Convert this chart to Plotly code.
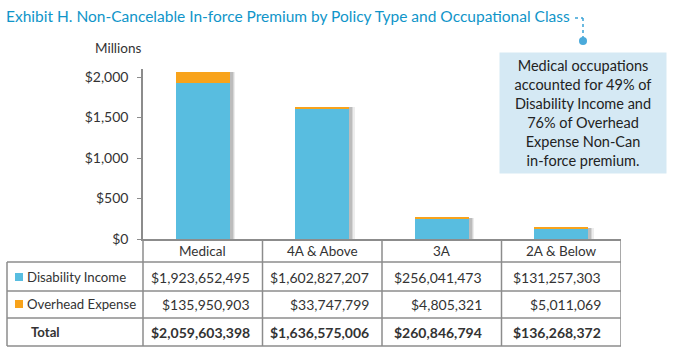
import plotly.graph_objects as go

categories = ["Medical", "4A & Above", "3A", "2A & Below"]
disability_income = [1923652495, 1602827207, 256041473, 131257303]
overhead_expense = [135950903, 33747799, 4805321, 5011069]
totals = [2059603398, 1636575006, 260846794, 136268372]
series_names = ["Disability Income", "Overhead Expense"]
y_ticks = [0, 500, 1000, 1500, 2000]

title_text = "Exhibit H. Non-Cancelable In-force Premium by Policy Type and Occupational Class"
note_text = ("Medical occupations<br>accounted for 49% of<br>Disability Income and"
             "<br>76% of Overhead<br>Expense Non-Can<br>in-force premium.")

W, H = 674, 354
L, R, T, B = 143, 53, 69, 115
PW, PH = W - L - R, H - T - B
FONT = "Lato"
BLUE = "#58bde0"
ORANGE = "#f8a31b"
GREY = "#8c8c8c"
TXT = "#333333"
TITLE_C = "#1095c9"


def px(x):
    return (x - L) / PW


def py(y):
    return (H - B - y) / PH


di_m = [v / 1e6 for v in disability_income]
oe_m = [v / 1e6 for v in overhead_expense]
tot_m = [v / 1e6 for v in totals]

bw = 0.45
fig = go.Figure()
# soft shadow behind bars (layered for a blurred edge)
for off, op in [(0.045, 0.12), (0.036, 0.18), (0.026, 0.25)]:
    fig.add_trace(go.Bar(x=categories, y=tot_m, width=bw, offset=-bw / 2 + off,
                         marker=dict(color=f"rgba(110,110,110,{op})", line=dict(width=0)),
                         hoverinfo="skip", showlegend=False))
fig.add_trace(go.Bar(x=categories, y=di_m, width=bw, name=series_names[0],
                     marker=dict(color=BLUE, line=dict(width=0)), showlegend=False))
fig.add_trace(go.Bar(x=categories, y=oe_m, base=di_m, width=bw, name=series_names[1],
                     marker=dict(color=ORANGE, line=dict(width=0)), showlegend=False))

shapes = []
ann = []

# table lines
line = dict(color=GREY, width=1.5)
for yy in [262, 291, 318, 346]:
    shapes.append(dict(type="line", xref="paper", yref="paper", x0=px(7), x1=px(621),
                       y0=py(yy), y1=py(yy), line=line))
shapes.append(dict(type="line", xref="paper", yref="paper", x0=px(7), x1=px(7),
                   y0=py(262), y1=py(346), line=line))
shapes.append(dict(type="line", xref="paper", yref="paper", x0=0, x1=0,
                   y0=py(239), y1=py(346), line=line))
for i in range(len(categories)):
    shapes.append(dict(type="line", xref="x", yref="paper", x0=i + 0.5, x1=i + 0.5,
                       y0=py(239), y1=py(346), line=line))

# legend squares
for yy, c in [(277, BLUE), (304, ORANGE)]:
    shapes.append(dict(type="rect", xref="paper", yref="paper", x0=px(15), x1=px(23),
                       y0=py(yy - 4), y1=py(yy + 4), fillcolor=c, line=dict(width=0)))

# title connector
dash_c = "#3aa3d6"
shapes.append(dict(type="line", xref="paper", yref="paper", x0=px(575), x1=px(583),
                   y0=py(18), y1=py(18), line=dict(color=dash_c, width=1.5, dash="dot")))
shapes.append(dict(type="line", xref="paper", yref="paper", x0=px(583), x1=px(583),
                   y0=py(18), y1=py(38), line=dict(color=dash_c, width=1.5, dash="dot")))
shapes.append(dict(type="circle", xref="paper", yref="paper", x0=px(579), x1=px(587),
                   y0=py(37), y1=py(45), fillcolor="#4aaadb", line=dict(width=0)))

# header category labels
for i, c in enumerate(categories):
    ann.append(dict(x=i, y=py(251), xref="x", yref="paper", text=c, showarrow=False,
                    font=dict(family=FONT, size=13.5, color=TXT), xanchor="center", yanchor="middle"))

# row labels
lab_font = dict(family=FONT, size=13.2, color=TXT)
ann.append(dict(x=px(25), y=py(277), xref="paper", yref="paper", text=series_names[0],
                showarrow=False, xanchor="left", yanchor="middle", font=lab_font))
ann.append(dict(x=px(25), y=py(304), xref="paper", yref="paper", text=series_names[1],
                showarrow=False, xanchor="left", yanchor="middle", font=lab_font))
ann.append(dict(x=px(29), y=py(332), xref="paper", yref="paper", text="<b>Total</b>",
                showarrow=False, xanchor="left", yanchor="middle", font=lab_font))


def money(v):
    return "${:,}".format(v)


for i in range(len(categories)):
    texts = [money(disability_income[i]), money(overhead_expense[i]), money(totals[i])]
    maxlen = max(len(t) for t in texts)
    right = i + (maxlen * 7.0 / 2) / (PW / len(categories))
    for t, yy, bold in zip(texts, [277, 304, 332], [False, False, True]):
        ann.append(dict(x=right, y=py(yy), xref="x", yref="paper",
                        text=f"<b>{t}</b>" if bold else t, showarrow=False,
                        xanchor="right", yanchor="middle",
                        font=dict(family=FONT, size=14, color=TXT)))

# title
ann.append(dict(x=px(4), y=py(16), xref="paper", yref="paper", text=title_text,
                showarrow=False, xanchor="left", yanchor="middle",
                font=dict(family=FONT, size=15.5, color=TITLE_C)))
# Millions
ann.append(dict(x=px(118), y=py(48), xref="paper", yref="paper", text="Millions",
                showarrow=False, xanchor="center", yanchor="middle",
                font=dict(family=FONT, size=13.5, color=TXT)))
# note box
ann.append(dict(x=px(583), y=py(113), xref="paper", yref="paper", text=note_text,
                showarrow=False, xanchor="center", yanchor="middle", align="center",
                width=160, height=114, bgcolor="#d5e9f4", borderpad=3,
                font=dict(family=FONT, size=14.5, color="#222222")))

fig.update_layout(
    width=W, height=H,
    margin=dict(l=L, r=R, t=T, b=B, pad=0),
    plot_bgcolor="white", paper_bgcolor="white",
    barmode="overlay", bargap=0,
    shapes=shapes, annotations=ann,
    font=dict(family=FONT, color=TXT),
)
fig.update_xaxes(type="category", range=[-0.5, len(categories) - 0.5], showticklabels=False,
                 showline=True, linecolor=GREY, linewidth=1.5, showgrid=False, zeroline=False,
                 ticks="", fixedrange=True)
fig.update_yaxes(range=[0, 2100], tickvals=y_ticks,
                 ticktext=["${:,}".format(v) for v in y_ticks],
                 showline=True, linecolor=GREY, linewidth=1.5, ticks="outside", ticklen=4,
                 tickcolor=GREY, showgrid=False, zeroline=False, ticklabelstandoff=6,
                 tickfont=dict(family=FONT, size=14, color=TXT))

fig.write_html("out.html")
